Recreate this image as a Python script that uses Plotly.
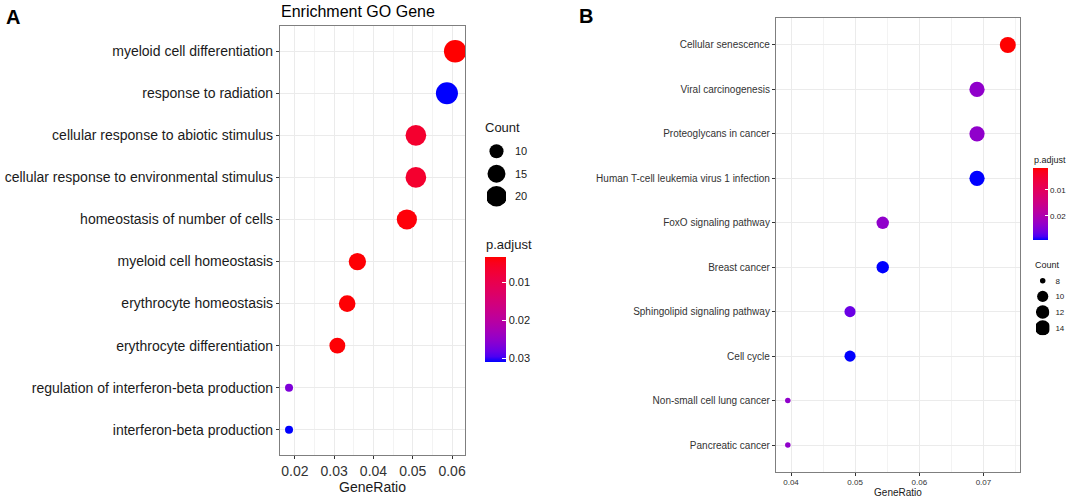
import numpy as np
import plotly.graph_objects as go

# ---------------- data ----------------
terms_A = ["myeloid cell differentiation", "response to radiation",
           "cellular response to abiotic stimulus",
           "cellular response to environmental stimulus",
           "homeostasis of number of cells", "myeloid cell homeostasis",
           "erythrocyte homeostasis", "erythrocyte differentiation",
           "regulation of interferon-beta production", "interferon-beta production"]
ratio_A = [0.0608, 0.0587, 0.0508, 0.0508, 0.0485, 0.0359, 0.0333, 0.0308, 0.0185, 0.0185]
count_A = [24, 23, 20, 20, 19, 14, 13, 12, 7, 7]
padj_A = [0.0035, 0.0311, 0.0068, 0.0068, 0.0040, 0.0037, 0.0037, 0.0037, 0.0268, 0.0311]
count_legend_A = [10, 15, 20]
padj_ticks_A = [0.01, 0.02, 0.03]
xticks_A = [0.02, 0.03, 0.04, 0.05, 0.06]

terms_B = ["Cellular senescence", "Viral carcinogenesis", "Proteoglycans in cancer",
           "Human T-cell leukemia virus 1 infection", "FoxO signaling pathway",
           "Breast cancer", "Sphingolipid signaling pathway", "Cell cycle",
           "Non-small cell lung cancer", "Pancreatic cancer"]
ratio_B = [0.0738, 0.0690, 0.0690, 0.0690, 0.0543, 0.0543, 0.0492, 0.0492, 0.0395, 0.0395]
count_B = [15, 14, 14, 14, 11, 11, 10, 10, 8, 8]
padj_B = [0.0014, 0.0233, 0.0233, 0.0292, 0.0233, 0.0292, 0.0262, 0.0292, 0.0233, 0.0233]
count_legend_B = [8, 10, 12, 14]
padj_ticks_B = [0.01, 0.02]
xticks_B = [0.04, 0.05, 0.06, 0.07]

# ---------------- helpers ----------------
W, H = 1072, 500
def px(x):
    return x / W
def py(y):
    return 1 - y / H

def area_size(counts, cmin, cmax, rmin, rmax):
    c = np.asarray(counts, dtype=float)
    return list(rmin + (rmax - rmin) * np.sqrt((c - cmin) / (cmax - cmin)))

def _lin(c):
    c = np.asarray(c) / 255.0
    return np.where(c <= 0.04045, c / 12.92, ((c + 0.055) / 1.055) ** 2.4)
def _gam(c):
    c = np.clip(c, 0, 1)
    return np.where(c <= 0.0031308, 12.92 * c, 1.055 * c ** (1 / 2.4) - 0.055) * 255
M = np.array([[0.4124, 0.3576, 0.1805], [0.2126, 0.7152, 0.0722], [0.0193, 0.1192, 0.9505]])
WP = np.array([0.95047, 1.0, 1.08883])
def rgb2lab(rgb):
    xyz = M @ _lin(rgb) / WP
    f = np.where(xyz > 0.008856, np.cbrt(xyz), 7.787 * xyz + 16 / 116)
    return np.array([116 * f[1] - 16, 500 * (f[0] - f[1]), 200 * (f[1] - f[2])])
def lab2rgb(lab):
    L, a, b = lab
    fy = (L + 16) / 116; fx = fy + a / 500; fz = fy - b / 200
    f = np.array([fx, fy, fz])
    xyz = np.where(f ** 3 > 0.008856, f ** 3, (f - 16 / 116) / 7.787) * WP
    return _gam(np.linalg.inv(M) @ xyz)
lab_blue = rgb2lab([0, 0, 255]); lab_red = rgb2lab([255, 0, 0])
colorscale = []
for t in np.linspace(0, 1, 21):
    r, g, b = lab2rgb(lab_blue + (lab_red - lab_blue) * t)
    colorscale.append([float(t), "rgb(%d,%d,%d)" % (round(r), round(g), round(b))])
colorscale[0][1] = "rgb(0,0,255)"
colorscale[-1][1] = "rgb(255,0,0)"

FONT = "Liberation Sans, Arial, sans-serif"
sizes_A = area_size(count_A, 7, 24, 8, 22.5)
sizes_legA = area_size(count_legend_A, 7, 24, 8, 22.5)
sizes_B = area_size(count_B, 8, 15, 5.5, 16)
sizes_legB = area_size(count_legend_B, 8, 15, 5.5, 16)

fig = go.Figure()
fig.add_trace(go.Scatter(x=ratio_A, y=terms_A, mode="markers", xaxis="x", yaxis="y",
                         marker=dict(size=sizes_A, color=[-p for p in padj_A],
                                     coloraxis="coloraxis", line=dict(width=0), opacity=1),
                         hoverinfo="skip"))
fig.add_trace(go.Scatter(x=ratio_B, y=terms_B, mode="markers", xaxis="x2", yaxis="y2",
                         marker=dict(size=sizes_B, color=[-p for p in padj_B],
                                     coloraxis="coloraxis2", line=dict(width=0), opacity=1),
                         hoverinfo="skip"))
fig.add_trace(go.Scatter(x=[0] * len(count_legend_A), y=[str(v) for v in count_legend_A],
                         mode="markers", xaxis="x3", yaxis="y3", opacity=1,
                         marker=dict(size=sizes_legA, color="#000000", opacity=1,
                                     line=dict(width=0)),
                         hoverinfo="skip"))
fig.add_trace(go.Scatter(x=[0] * len(count_legend_B), y=[str(v) for v in count_legend_B],
                         mode="markers", xaxis="x4", yaxis="y4", opacity=1,
                         marker=dict(size=sizes_legB, color="#000000", opacity=1,
                                     line=dict(width=0)),
                         hoverinfo="skip"))

border = dict(showline=True, mirror=True, linecolor="#7f7f7f", linewidth=1.2, zeroline=False)
grid = dict(showgrid=True, gridcolor="#EBEBEB", gridwidth=1)

fig.update_layout(
    width=W, height=H, margin=dict(l=0, r=0, t=0, b=0),
    paper_bgcolor="white", plot_bgcolor="white", showlegend=False,
    font=dict(family=FONT, color="#1a1a1a"),
    xaxis=dict(domain=[px(280), px(465)], range=[0.0162, 0.0633], anchor="y",
               tickvals=xticks_A, tickformat=".2f", ticks="outside", ticklen=3,
               tickcolor="#333", tickfont=dict(size=14, color="#333"),
               minor=dict(dtick=0.005, tick0=0, showgrid=True, gridcolor="#F3F3F3", gridwidth=0.6),
               title=dict(text="GeneRatio", font=dict(size=14, color="#1a1a1a"), standoff=2),
               **grid, **border),
    yaxis=dict(domain=[py(455), py(26)], type="category", categoryorder="array",
               categoryarray=terms_A, range=[len(terms_A) - 0.4, -0.6], anchor="x",
               ticks="outside", ticklen=3, tickcolor="#333",
               tickfont=dict(size=14, color="#1a1a1a"), **grid, **border),
    xaxis2=dict(domain=[px(776), px(1020)], range=[0.03766, 0.0757], anchor="y2",
                tickvals=xticks_B, tickformat=".2f", ticks="outside", ticklen=3,
                tickcolor="#333", tickfont=dict(size=8, color="#333"),
                minor=dict(dtick=0.005, tick0=0, showgrid=True, gridcolor="#F3F3F3", gridwidth=0.6),
                title=dict(text="GeneRatio", font=dict(size=10, color="#1a1a1a"), standoff=2),
                **grid, **border),
    yaxis2=dict(domain=[py(471.7), py(18.3)], type="category", categoryorder="array",
                categoryarray=terms_B, range=[len(terms_B) - 0.4, -0.6], anchor="x2",
                ticks="outside", ticklen=3, tickcolor="#333",
                tickfont=dict(size=10, color="#333"), **grid, **border),
    xaxis3=dict(domain=[px(487), px(506)], range=[-1, 1], anchor="y3", visible=False),
    yaxis3=dict(domain=[py(207.5), py(140)], type="category", categoryorder="array",
                categoryarray=[str(v) for v in count_legend_A], range=[2.5, -0.5],
                anchor="x3", side="right", showgrid=False, showline=False, zeroline=False,
                ticks="", ticklabelstandoff=8, tickfont=dict(size=11, color="#1a1a1a")),
    xaxis4=dict(domain=[px(1036), px(1049.4)], range=[-1, 1], anchor="y4", visible=False),
    yaxis4=dict(domain=[py(335.6), py(272.85)], type="category", categoryorder="array",
                categoryarray=[str(v) for v in count_legend_B], range=[3.5, -0.5],
                anchor="x4", side="right", showgrid=False, showline=False, zeroline=False,
                ticks="", ticklabelstandoff=5, tickfont=dict(size=8, color="#1a1a1a")),
    coloraxis=dict(colorscale=colorscale, cmin=-max(padj_A), cmax=-min(padj_A),
                   colorbar=dict(x=px(485), xanchor="left", y=py(257.3), yanchor="top",
                                 len=105.4, lenmode="pixels", thickness=21,
                                 xpad=0, ypad=0, outlinewidth=0,
                                 tickvals=[-v for v in padj_ticks_A],
                                 ticktext=["%.2f" % v for v in padj_ticks_A],
                                 ticks="inside", tickcolor="white", ticklen=4,
                                 tickfont=dict(size=11, color="#1a1a1a"))),
    coloraxis2=dict(colorscale=colorscale, cmin=-max(padj_B), cmax=-min(padj_B),
                    colorbar=dict(x=px(1033), xanchor="left", y=py(167.7), yanchor="top",
                                  len=72.3, lenmode="pixels", thickness=15,
                                  xpad=0, ypad=0, outlinewidth=0,
                                  tickvals=[-v for v in padj_ticks_B],
                                  ticktext=["%.2f" % v for v in padj_ticks_B],
                                  ticks="inside", tickcolor="white", ticklen=3,
                                  tickfont=dict(size=8, color="#1a1a1a"))),
)

ann = [
    dict(text="<b>A</b>", x=px(4), y=py(17), xanchor="left", yanchor="middle", font=dict(size=20, color="black")),
    dict(text="<b>B</b>", x=px(577), y=py(16), xanchor="left", yanchor="middle", font=dict(size=20, color="black")),
    dict(text="Enrichment GO Gene", x=px(279), y=py(11), xanchor="left", yanchor="middle", font=dict(size=16, color="black")),
    dict(text="Count", x=px(483), y=py(127.3), xanchor="left", yanchor="middle", font=dict(size=13, color="#1a1a1a")),
    dict(text="p.adjust", x=px(484), y=py(244), xanchor="left", yanchor="middle", font=dict(size=13, color="#1a1a1a")),
    dict(text="Count", x=px(1033), y=py(264.7), xanchor="left", yanchor="middle", font=dict(size=9, color="#1a1a1a")),
    dict(text="p.adjust", x=px(1032), y=py(160), xanchor="left", yanchor="middle", font=dict(size=9, color="#1a1a1a")),
]
for a in ann:
    a.update(xref="paper", yref="paper", showarrow=False)
fig.update_layout(annotations=ann)

fig.write_html("out.html", config={"displayModeBar": False},
               post_script="document.body.style.margin='0';document.body.style.overflow='hidden';")
